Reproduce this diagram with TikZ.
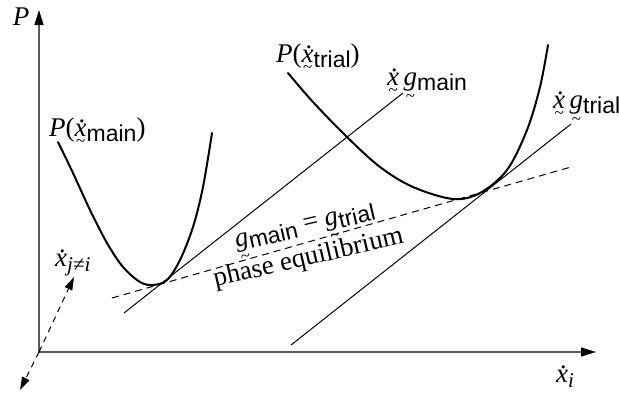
\documentclass[tikz,border=0pt]{standalone}
\usepackage{fontspec}
\setmainfont{Liberation Serif}
\setsansfont{Liberation Sans}
\usetikzlibrary{arrows.meta}

\newcommand\xdot{{\ooalign{\textit{x}\cr\hidewidth\kern2.5pt\raisebox{13.5pt}{\fontsize{26}{26}\selectfont.}\hidewidth\cr}}}
\newcommand\utx[1]{{\ooalign{#1\cr\hidewidth\raisebox{-10pt}{\fontsize{17}{17}\selectfont\textasciitilde}\hidewidth\cr}}}
\newcommand\utg[1]{{\ooalign{#1\cr\hidewidth\raisebox{-16pt}{\fontsize{17}{17}\selectfont\textasciitilde}\hidewidth\cr}}}
\newcommand\sub[1]{\raisebox{-5pt}{\fontsize{23}{23}\sffamily #1}}
\newcommand\isub[1]{\raisebox{-5pt}{\fontsize{21}{21}\selectfont #1}}

\tikzset{
  lab/.style={inner sep=0pt, font=\fontsize{27}{30}\selectfont},
  axis/.style={draw=black!65, line width=1.3pt, -{Triangle[length=15pt,width=9pt,color=black]}},
  depth/.style={draw=black, line width=1pt, dash pattern=on 6pt off 5pt, -{Triangle[length=13pt,width=8pt,color=black]}},
  thinline/.style={draw=black, line width=1pt},
  curve/.style={draw=black, line width=2pt, line cap=round},
  dashline/.style={draw=black, line width=1pt, dash pattern=on 7pt off 5pt}
}

\begin{document}
\begin{tikzpicture}[x=1pt,y=-1pt]
\useasboundingbox (0,0) rectangle (619,394);

% named points
\coordinate (O) at (39,352);
\coordinate (Ptop) at (39,10);
\coordinate (Xend) at (596,352);
\coordinate (Dup) at (74,277);
\coordinate (Ddown) at (20,390);
\coordinate (gm1) at (124,313);
\coordinate (gm2) at (403,93);
\coordinate (gt1) at (291,345);
\coordinate (gt2) at (571,124);
\coordinate (d1) at (112,298);
\coordinate (d2) at (571,167);

% axes
\draw[axis] (O) -- (Ptop);
\draw[axis] (O) -- (Xend);
\draw[depth] (O) -- (Dup);
\draw[depth] (O) -- (Ddown);

% tangent lines
\draw[thinline] (gm1) -- (gm2);
\draw[thinline] (gt1) -- (gt2);
\draw[dashline] (d1) -- (d2);

% curves
\draw[curve] plot[smooth, tension=0.55] coordinates {(58,142) (73,173) (90,210) (107,243) (123,267) (140,282) (153,285) (167,280) (180,260) (193,227) (203,187) (212,133)};
\draw[curve] plot[smooth, tension=0.55] coordinates {(288,73) (313,102) (347,137) (380,167) (413,187) (453,199) (480,193) (507,170) (527,130) (540,87) (548,45)};

% labels
\node[lab] (LP) at (21,17) {\textit{P}};
\node[lab, anchor=base west] (Lxi) at (556,382) {\xdot\isub{\textit{i}}};
\node[lab, anchor=base west] (Lxj) at (55,266) {\xdot\isub{\textit{j}≠\textit{i}}};
\node[lab, anchor=base west] (LPm) at (49,136) {\textit{P}(\utx{\xdot}\sub{main})};
\node[lab, anchor=base west] (LPt) at (276,62) {\textit{P}(\utx{\xdot}\sub{trial})};
\node[lab, anchor=base west] (Lgm) at (387,85) {\utx{\xdot}\,\utg{\textit{g}}\sub{main}};
\node[lab, anchor=base west] (Lgt) at (553,108) {\utx{\xdot}\,\utg{\textit{g}}\sub{trial}};
\node[lab, anchor=base, rotate=13] (Leq) at (306,231) {\utg{\textit{g}}\sub{main} = \utg{\textit{g}}\sub{trial}};
\node[lab, anchor=base, rotate=13] (Lph) at (310,265) {phase equilibrium};
\end{tikzpicture}
\end{document}
